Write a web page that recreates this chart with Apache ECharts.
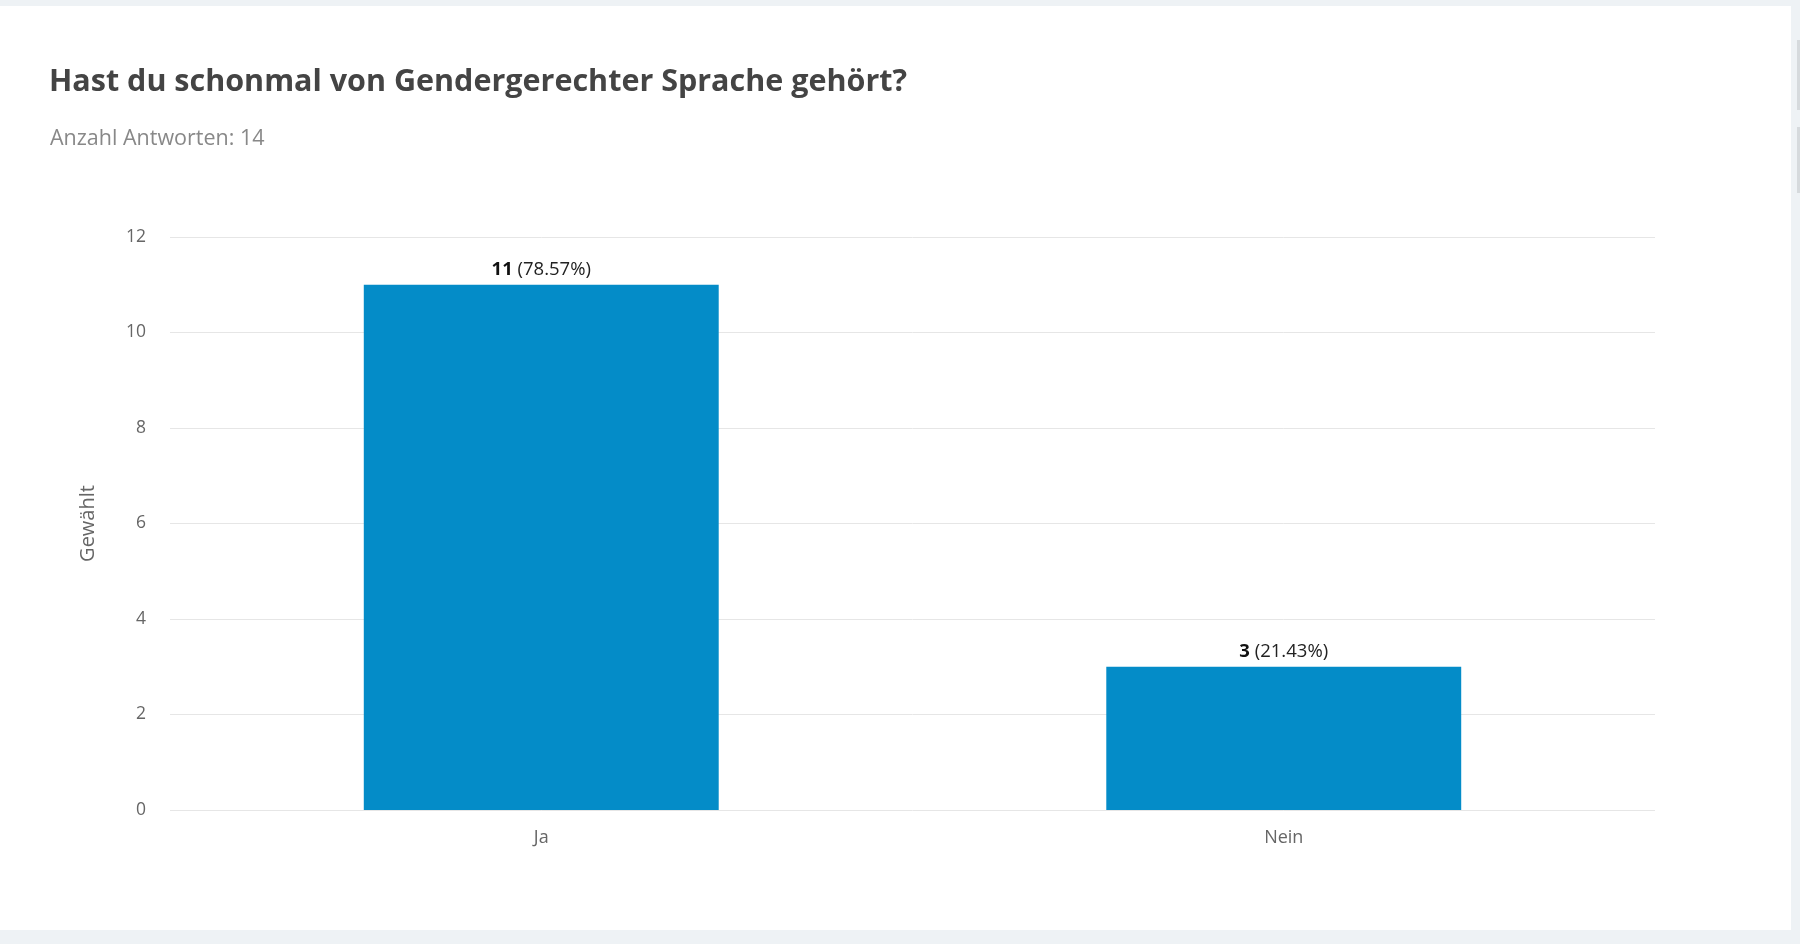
<!DOCTYPE html>
<html>
<head>
<meta charset="utf-8">
<script src="https://cdn.jsdelivr.net/npm/echarts@6/dist/echarts.min.js"></script>
<style>
  html, body { margin: 0; padding: 0; background: #eef2f5; width: 1800px; height: 944px; overflow: hidden; }
  #chart { position: absolute; left: 0; top: 6px; width: 1791px; height: 924px; background: #ffffff; }
  .sb { position: absolute; left: 1797px; width: 3px; background: #d6dadd; }
</style>
</head>
<body>
<div id="chart"></div>
<div class="sb" style="top:40px;height:70px"></div>
<div class="sb" style="top:127px;height:66px"></div>
<script>
const titleText = 'Hast du schonmal von Gendergerechter Sprache gehört?';
const subtitleText = 'Anzahl Antworten: 14';
const categories = ['Ja', 'Nein'];
const counts = [11, 3];
const totalAnswers = 14;
const yAxisName = 'Gewählt';

const chart = echarts.init(document.getElementById('chart'));
const font = '"Open Sans", "Noto Sans", sans-serif';

chart.setOption({
  animation: false,
  textStyle: { fontFamily: font },
  title: [
    {
      text: titleText,
      left: 44, top: 56,
      textStyle: { fontFamily: font, fontSize: 30.5, fontWeight: 'bold', color: '#444444' }
    },
    {
      text: subtitleText,
      left: 45, top: 117,
      textStyle: { fontFamily: font, fontSize: 21.5, fontWeight: 'normal', color: '#888888' }
    }
  ],
  grid: { left: 170, right: 136, top: 231, bottom: 120, containLabel: false },
  xAxis: {
    type: 'category',
    data: categories,
    axisLine: { show: false },
    axisTick: { show: false },
    axisLabel: { color: '#666666', fontSize: 18, margin: 19, fontFamily: font }
  },
  yAxis: {
    type: 'value',
    min: 0, max: 12, interval: 2,
    name: yAxisName,
    nameLocation: 'middle',
    nameGap: 72,
    nameTextStyle: { color: '#666666', fontSize: 20, fontFamily: font },
    axisLine: { show: false },
    axisTick: { show: false },
    axisLabel: { color: '#666666', fontSize: 17.5, margin: 24, fontFamily: font, padding: [4, 0, 0, 0] },
    splitLine: { lineStyle: { color: '#e6e6e6', width: 1 } }
  },
  series: [{
    type: 'bar',
    data: counts,
    barWidth: '47.8%',
    itemStyle: { color: '#048cc8' },
    label: {
      show: true,
      position: 'top',
      distance: 6,
      color: '#222222',
      fontSize: 18.5,
      fontFamily: font,
      formatter: p => '{b|' + p.value + '} (' + (p.value / totalAnswers * 100).toFixed(2) + '%)',
      rich: { b: { fontWeight: 'bold', color: '#111111', fontSize: 18.5, fontFamily: font } }
    }
  }]
});
</script>
</body>
</html>
